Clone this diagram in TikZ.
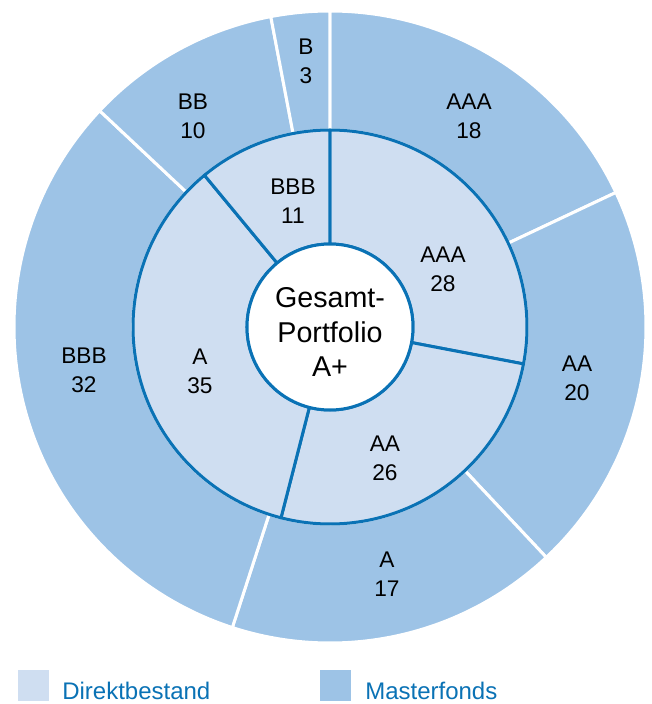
\documentclass[tikz,border=0pt]{standalone}
\usepackage{fontspec}
\setmainfont{Liberation Sans}
\definecolor{masterblue}{HTML}{9DC3E6}
\definecolor{direktblue}{HTML}{CFDEF1}
\definecolor{ringblue}{HTML}{0A72B5}
\tikzset{
  masterseg/.style={fill=masterblue, draw=white, line width=2.25pt, line join=round},
  direktseg/.style={fill=direktblue, draw=ringblue, line width=2.25pt, line join=round},
  seglabel/.style={align=center, inner sep=0pt, font=\fontsize{17}{21.5}\selectfont},
  legendtext/.style={anchor=base west, inner sep=0pt, text=ringblue, font=\fontsize{18}{22}\selectfont}
}
\begin{document}
\begin{tikzpicture}[x=0.75pt, y=0.75pt]
  \useasboundingbox (-330,-377) rectangle (321,327);
  % Masterfonds
  \draw[masterseg] (90:197) arc[start angle=90, end angle=25.2, radius=197] -- (25.2:316) arc[start angle=25.2, end angle=90, radius=316] -- cycle; % AAA
  \draw[masterseg] (25.2:197) arc[start angle=25.2, end angle=-46.8, radius=197] -- (-46.8:316) arc[start angle=-46.8, end angle=25.2, radius=316] -- cycle; % AA
  \draw[masterseg] (-46.8:197) arc[start angle=-46.8, end angle=-108, radius=197] -- (-108:316) arc[start angle=-108, end angle=-46.8, radius=316] -- cycle; % A
  \draw[masterseg] (-108:197) arc[start angle=-108, end angle=-223.2, radius=197] -- (-223.2:316) arc[start angle=-223.2, end angle=-108, radius=316] -- cycle; % BBB
  \draw[masterseg] (-223.2:197) arc[start angle=-223.2, end angle=-259.2, radius=197] -- (-259.2:316) arc[start angle=-259.2, end angle=-223.2, radius=316] -- cycle; % BB
  \draw[masterseg] (-259.2:197) arc[start angle=-259.2, end angle=-270, radius=197] -- (-270:316) arc[start angle=-270, end angle=-259.2, radius=316] -- cycle; % B
  % Direktbestand
  \draw[direktseg] (90:83) arc[start angle=90, end angle=-10.8, radius=83] -- (-10.8:197) arc[start angle=-10.8, end angle=90, radius=197] -- cycle; % AAA
  \draw[direktseg] (-10.8:83) arc[start angle=-10.8, end angle=-104.4, radius=83] -- (-104.4:197) arc[start angle=-104.4, end angle=-10.8, radius=197] -- cycle; % AA
  \draw[direktseg] (-104.4:83) arc[start angle=-104.4, end angle=-230.4, radius=83] -- (-230.4:197) arc[start angle=-230.4, end angle=-104.4, radius=197] -- cycle; % A
  \draw[direktseg] (-230.4:83) arc[start angle=-230.4, end angle=-270, radius=83] -- (-270:197) arc[start angle=-270, end angle=-230.4, radius=197] -- cycle; % BBB
  \draw[ringblue, fill=white, line width=2.25pt] (0,0) circle[radius=83];
  \node[seglabel, font=\fontsize{21.5}{26}\selectfont] (gesamt) at (0,-5) {Gesamt-\\Portfolio\\A+};
  \node[seglabel] (mAAA) at (139,211) {AAA\\18};
  \node[seglabel] (mAA) at (247,-51) {AA\\20};
  \node[seglabel] (mA) at (57,-247) {A\\17};
  \node[seglabel] (mBBB) at (-246,-43) {BBB\\32};
  \node[seglabel] (mBB) at (-137,211) {BB\\10};
  \node[seglabel] (mB) at (-24,266) {B\\3};
  \node[seglabel] (dBBB) at (-37,126) {BBB\\11};
  \node[seglabel] (dAAA) at (113,58) {AAA\\28};
  \node[seglabel] (dAA) at (55,-131) {AA\\26};
  \node[seglabel] (dA) at (-130,-44) {A\\35};
  % Legende
  \fill[direktblue] (-312,-343) rectangle (-281,-374);
  \node[legendtext] (direkt) at (-268,-372.5) {Direktbestand};
  \fill[masterblue] (-10,-343) rectangle (21,-374);
  \node[legendtext] (master) at (35,-372.5) {Masterfonds};
\end{tikzpicture}
\end{document}
